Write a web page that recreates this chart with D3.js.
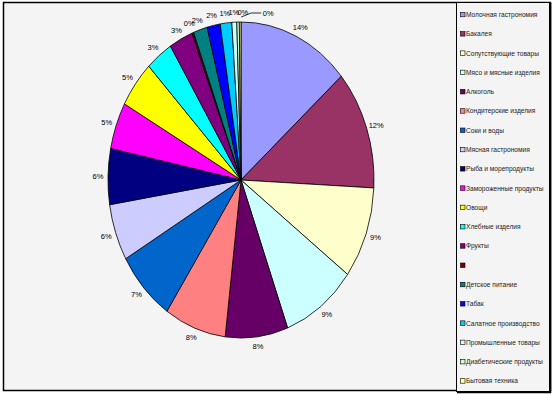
<!DOCTYPE html>
<html>
<head>
<meta charset="utf-8">
<script src="https://cdn.jsdelivr.net/npm/d3@7"></script>
<style>
  body { margin: 0; background: #ffffff; }
  text { font-family: "Liberation Sans", Arial, sans-serif; }
</style>
</head>
<body>
<script>
// categories (order of the legend, clockwise from 12 o'clock)
let categories = [
  'Молочная гастрономия', 'Бакалея', 'Сопутствующие товары', 'Мясо и мясные изделия',
  'Алкоголь', 'Кондитерские изделия', 'Соки и воды', 'Мясная гастрономия',
  'Рыба и морепродукты', 'Замороженные продукты', 'Овощи', 'Хлебные изделия',
  'Фрукты', '', 'Детское питание', 'Табак', 'Салатное производство',
  'Промышленные товары', 'Диабетические продукты', 'Бытовая техника'
];

// share of sales, %
let shares = [13.6, 12.2, 9.4, 9.1, 7.6, 7.5, 7.3, 5.8, 5.7, 4.8, 4.8, 3.3,
  2.9, 0.2, 1.7, 1.6, 1.4, 0.6, 0.3, 0.2];

let colors = ['#9999FF', '#993366', '#FFFFCC', '#CCFFFF', '#660066', '#FF8080',
  '#0066CC', '#CCCCFF', '#000080', '#FF00FF', '#FFFF00', '#00FFFF', '#800080',
  '#800000', '#008080', '#0000FF', '#00CCFF', '#CCFFFF', '#CCFFCC', '#FFFF99'];

let width = 554, height = 394;
let cx = 241, cy = 180, rx = 133, ry = 158;
let labelGap = 10;

let svg = d3.select('body')
  .append('svg')
  .attr('width', width)
  .attr('height', height);

// chart area
svg.append('rect')
  .attr('x', 3.5).attr('y', 2.5)
  .attr('width', 547).attr('height', 388)
  .attr('fill', '#F4F4F4')
  .attr('stroke', '#000')
  .attr('stroke-width', 1.5);

let pie = d3.pie().sort(null).value(d => d);
let arcs = pie(shares);

let arc = d3.arc().innerRadius(0).outerRadius(rx);

// pie is stretched vertically into an ellipse
let pieG = svg.append('g')
  .attr('transform', `translate(${cx},${cy}) scale(1,${ry / rx})`);

pieG.selectAll('path')
  .data(arcs)
  .enter()
  .append('path')
  .attr('d', arc)
  .attr('fill', (d, i) => colors[i])
  .attr('stroke', '#000')
  .attr('stroke-width', 0.8)
  .attr('vector-effect', 'non-scaling-stroke');

// data labels
let nudge = { 18: 5 };
let lastIdx = shares.length - 1;

svg.selectAll('.lbl')
  .data(arcs)
  .enter()
  .append('text')
  .attr('class', 'lbl')
  .each(function(d, i) {
    let a = (d.startAngle + d.endAngle) / 2;
    let x = cx + (rx + labelGap) * Math.sin(a);
    let y = cy - (ry + labelGap) * Math.cos(a);
    if (nudge[i]) x += nudge[i];
    if (i === lastIdx) {
      // moved aside with a leader line
      let ex = cx + rx * Math.sin(a), ey = cy - ry * Math.cos(a) - 5;
      svg.append('polyline')
        .attr('points', `${ex + 1},${ey} ${ex + 11},${ey - 4} ${ex + 21},${ey - 4}`)
        .attr('fill', 'none')
        .attr('stroke', '#000')
        .attr('stroke-width', 0.8);
      x = ex + 28;
      y = ey - 4;
    }
    d3.select(this).attr('x', x).attr('y', y);
  })
  .attr('text-anchor', 'middle')
  .attr('dy', '0.35em')
  .attr('font-size', 7.5)
  .attr('fill', '#000')
  .text(d => Math.round(d.data) + '%');

// legend
let legend = svg.append('g');

legend.append('rect')
  .attr('x', 456.5).attr('y', 2.5)
  .attr('width', 93).attr('height', 389)
  .attr('fill', '#F4F4F4')
  .attr('stroke', '#000')
  .attr('stroke-width', 1);

legend.append('polyline')
  .attr('points', '457,392.5 550.5,392.5 550.5,3')
  .attr('fill', 'none')
  .attr('stroke', '#000')
  .attr('stroke-width', 1.5);

let ly = d3.scalePoint()
  .domain(d3.range(categories.length))
  .range([14.3, 380.7]);

let item = legend.selectAll('.item')
  .data(categories)
  .enter()
  .append('g')
  .attr('transform', (d, i) => `translate(460,${ly(i)})`);

item.append('rect')
  .attr('x', 0.5).attr('y', -2)
  .attr('width', 4.5).attr('height', 4.5)
  .attr('fill', (d, i) => colors[i])
  .attr('stroke', '#000')
  .attr('stroke-width', 0.6);

// legend font is drawn narrow, as in the source
item.append('text')
  .attr('transform', 'translate(6,0) scale(0.87,1)')
  .attr('dy', '0.35em')
  .attr('font-size', 7.6)
  .attr('fill', '#222')
  .text(d => d);
</script>
</body>
</html>
